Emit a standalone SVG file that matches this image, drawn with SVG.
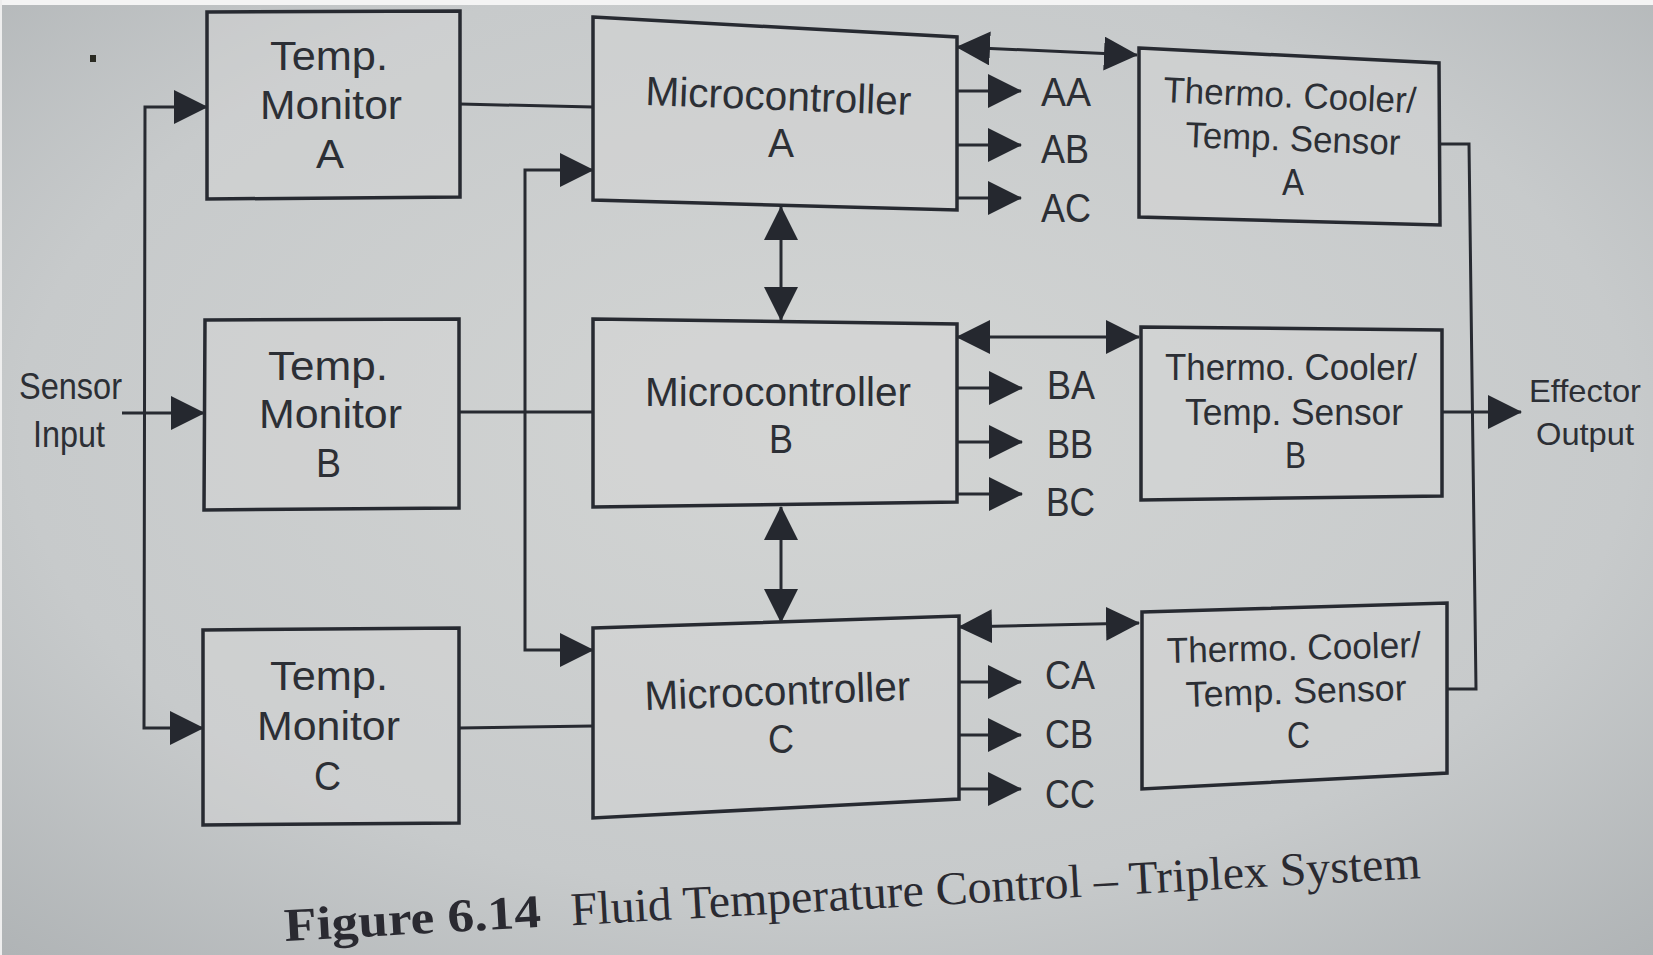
<svg xmlns="http://www.w3.org/2000/svg" width="1653" height="955" viewBox="0 0 1653 955">
<defs>
<radialGradient id="bg" cx="50%" cy="45%" r="75%">
<stop offset="0" stop-color="#d3d5d4"/>
<stop offset="0.65" stop-color="#c7cacb"/>
<stop offset="1" stop-color="#afb3b5"/>
</radialGradient>
<marker id="ah" markerUnits="userSpaceOnUse" markerWidth="34" markerHeight="34" viewBox="0 0 34 34" refX="33" refY="17" orient="auto-start-reverse">
<path d="M0,0 L34,17 L0,34 Z" fill="#25282f"/>
</marker>
<style>
.box{fill:#d6d8d7;fill-opacity:0.4;stroke:#272a31;stroke-width:3.5;stroke-linejoin:miter}
.ln{fill:none;stroke:#272a31;stroke-width:3}
.arr{marker-end:url(#ah)}
.bi{marker-start:url(#ah);marker-end:url(#ah)}
.t{font-family:"Liberation Sans",Arial,sans-serif;fill:#2c2f35}
.tm{font-size:41px}
.mc{font-size:41px}
.tc{font-size:36px}
.lb{font-size:40px}
.io{font-size:37px}
.eo{font-size:32px}
.cap{font-family:"Liberation Serif","Times New Roman",serif;font-size:47px;fill:#2a2a31}
</style>
</defs>

<g id="background">
<rect x="0" y="0" width="1653" height="955" fill="url(#bg)"/>
<rect x="0" y="0" width="1653" height="5" fill="#f4f4f4"/>
<rect x="0" y="0" width="2" height="955" fill="#eeeeee"/>
<rect x="90" y="55" width="6" height="7" fill="#2a2a22"/>
</g>

<g id="connectors">
<path class="ln arr" d="M122,413 H204"/>
<path class="ln bi" d="M207,107 L145,107 L144,728 L203,728"/>
<path class="ln" d="M460,104 L593,107"/>
<path class="ln" d="M459,412 L593,412"/>
<path class="ln" d="M459,728 L593,726"/>
<path class="ln bi" d="M593,170 L525,170 L525,650 L593,650"/>
<path class="ln bi" d="M781,207 V320"/>
<path class="ln bi" d="M781,507 V622"/>
<path class="ln bi" d="M957,47 L1137,55"/>
<path class="ln bi" d="M957,337 L1139,337"/>
<path class="ln bi" d="M959,627 L1139,623"/>
<path class="ln arr" d="M957,91 H1021"/>
<path class="ln arr" d="M957,145 H1021"/>
<path class="ln arr" d="M957,198 H1021"/>
<path class="ln arr" d="M957,388 H1022"/>
<path class="ln arr" d="M957,442 H1022"/>
<path class="ln arr" d="M957,494 H1022"/>
<path class="ln arr" d="M959,682 H1021"/>
<path class="ln arr" d="M959,735 H1021"/>
<path class="ln arr" d="M959,789 H1021"/>
<path class="ln" d="M1440,144 H1469 L1476,689 H1447"/>
<path class="ln arr" d="M1442,412 H1521"/>
</g>

<g id="sensor-input">
<text class="t io" x="19" y="399" textLength="103" lengthAdjust="spacingAndGlyphs">Sensor</text>
<text class="t io" x="33" y="447" textLength="72" lengthAdjust="spacingAndGlyphs">Input</text>
</g>

<g id="temp-monitor-a">
<polygon class="box" points="207,12 460,11 460,197 207,199"/>
<text class="t tm" x="270" y="70" textLength="118" lengthAdjust="spacingAndGlyphs">Temp.</text>
<text class="t tm" x="260" y="119" textLength="142" lengthAdjust="spacingAndGlyphs">Monitor</text>
<text class="t tm" x="316" y="168" textLength="28" lengthAdjust="spacingAndGlyphs">A</text>
</g>

<g id="temp-monitor-b">
<polygon class="box" points="205,320 459,319 459,508 204,510"/>
<text class="t tm" x="268" y="380" textLength="120" lengthAdjust="spacingAndGlyphs">Temp.</text>
<text class="t tm" x="259" y="428" textLength="143" lengthAdjust="spacingAndGlyphs">Monitor</text>
<text class="t tm" x="316" y="477" textLength="25" lengthAdjust="spacingAndGlyphs">B</text>
</g>

<g id="temp-monitor-c">
<polygon class="box" points="203,630 459,628 459,823 203,825"/>
<text class="t tm" x="270" y="690" textLength="118" lengthAdjust="spacingAndGlyphs">Temp.</text>
<text class="t tm" x="257" y="740" textLength="143" lengthAdjust="spacingAndGlyphs">Monitor</text>
<text class="t tm" x="314" y="790" textLength="27" lengthAdjust="spacingAndGlyphs">C</text>
</g>

<g id="microcontroller-a">
<polygon class="box" points="593,17 957,37 957,210 593,200"/>
<text class="t mc" x="645" y="105" textLength="266" lengthAdjust="spacingAndGlyphs" transform="rotate(2.15 645 105)">Microcontroller</text>
<text class="t mc" x="768" y="157" textLength="26" lengthAdjust="spacingAndGlyphs">A</text>
</g>

<g id="microcontroller-b">
<polygon class="box" points="593,319 957,324 957,502 593,507"/>
<text class="t mc" x="645" y="406" textLength="266" lengthAdjust="spacingAndGlyphs">Microcontroller</text>
<text class="t mc" x="769" y="453" textLength="24" lengthAdjust="spacingAndGlyphs">B</text>
</g>

<g id="microcontroller-c">
<polygon class="box" points="593,628 959,616 959,799 593,818"/>
<text class="t mc" x="645" y="710" textLength="266" lengthAdjust="spacingAndGlyphs" transform="rotate(-2.15 645 710)">Microcontroller</text>
<text class="t mc" x="768" y="753" textLength="26" lengthAdjust="spacingAndGlyphs">C</text>
</g>

<g id="outputs-a">
<text class="t lb" x="1041" y="106" textLength="50" lengthAdjust="spacingAndGlyphs">AA</text>
<text class="t lb" x="1041" y="163" textLength="48" lengthAdjust="spacingAndGlyphs">AB</text>
<text class="t lb" x="1041" y="222" textLength="50" lengthAdjust="spacingAndGlyphs">AC</text>
</g>
<g id="outputs-b">
<text class="t lb" x="1047" y="399" textLength="48" lengthAdjust="spacingAndGlyphs">BA</text>
<text class="t lb" x="1047" y="458" textLength="46" lengthAdjust="spacingAndGlyphs">BB</text>
<text class="t lb" x="1046" y="516" textLength="49" lengthAdjust="spacingAndGlyphs">BC</text>
</g>
<g id="outputs-c">
<text class="t lb" x="1045" y="689" textLength="50" lengthAdjust="spacingAndGlyphs">CA</text>
<text class="t lb" x="1045" y="748" textLength="48" lengthAdjust="spacingAndGlyphs">CB</text>
<text class="t lb" x="1045" y="808" textLength="50" lengthAdjust="spacingAndGlyphs">CC</text>
</g>

<g id="thermo-cooler-a">
<polygon class="box" points="1139,48 1439,63 1440,225 1139,217"/>
<text class="t tc" x="1163" y="102" textLength="253" lengthAdjust="spacingAndGlyphs" transform="rotate(2.5 1163 102)">Thermo. Cooler/</text>
<text class="t tc" x="1185" y="147" textLength="215" lengthAdjust="spacingAndGlyphs" transform="rotate(2.1 1185 147)">Temp. Sensor</text>
<text class="t tc" x="1282" y="195" textLength="22" lengthAdjust="spacingAndGlyphs">A</text>
</g>

<g id="thermo-cooler-b">
<polygon class="box" points="1141,327 1442,330 1442,496 1141,500"/>
<text class="t tc" x="1165" y="380" textLength="252" lengthAdjust="spacingAndGlyphs">Thermo. Cooler/</text>
<text class="t tc" x="1185" y="425" textLength="218" lengthAdjust="spacingAndGlyphs">Temp. Sensor</text>
<text class="t tc" x="1285" y="468" textLength="21" lengthAdjust="spacingAndGlyphs">B</text>
</g>

<g id="thermo-cooler-c">
<polygon class="box" points="1142,612 1447,603 1447,773 1142,789"/>
<text class="t tc" x="1167" y="663" textLength="254" lengthAdjust="spacingAndGlyphs" transform="rotate(-1.35 1167 663)">Thermo. Cooler/</text>
<text class="t tc" x="1186" y="707" textLength="221" lengthAdjust="spacingAndGlyphs" transform="rotate(-1.8 1186 707)">Temp. Sensor</text>
<text class="t tc" x="1287" y="748" textLength="23" lengthAdjust="spacingAndGlyphs">C</text>
</g>

<g id="effector-output">
<text class="t eo" x="1529" y="402" textLength="112" lengthAdjust="spacingAndGlyphs">Effector</text>
<text class="t eo" x="1536" y="445" textLength="98" lengthAdjust="spacingAndGlyphs">Output</text>
</g>

<g id="caption">
<text class="cap" transform="rotate(-3.17 285 941)"><tspan x="285" y="941" font-weight="bold" textLength="257" lengthAdjust="spacingAndGlyphs">Figure 6.14</tspan><tspan x="572" y="941" textLength="851" lengthAdjust="spacingAndGlyphs">Fluid Temperature Control – Triplex System</tspan></text>
</g>
</svg>
